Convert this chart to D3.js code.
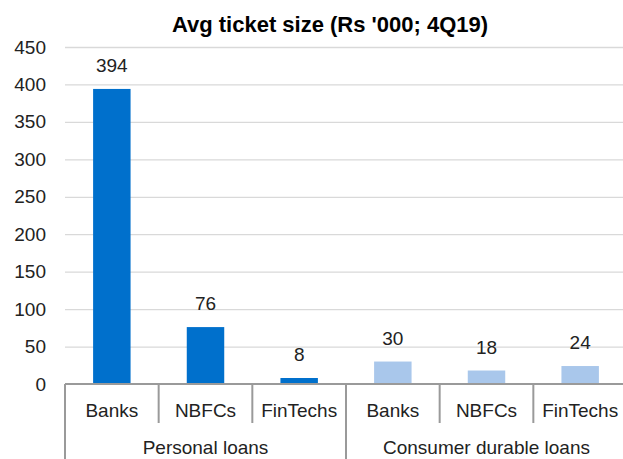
<!DOCTYPE html>
<html>
<head>
<meta charset="utf-8">
<script src="https://cdn.jsdelivr.net/npm/d3@7"></script>
<style>
  body { margin: 0; background: #fff; }
  svg { display: block; font-family: "Liberation Sans", Arial, sans-serif; }
</style>
</head>
<body>
<div id="wrapper"></div>
<script>
// data
const groups = ["Personal loans", "Consumer durable loans"];
const lenders = ["Banks", "NBFCs", "FinTechs"];
const personalValues = [394, 76, 8];
const durableValues = [30, 18, 24];
const yTicks = [0, 50, 100, 150, 200, 250, 300, 350, 400, 450];

const colors = { "Personal loans": "#0070cc", "Consumer durable loans": "#a9c7eb" };

const dataset = [];
groups.forEach((g, gi) => {
  const vals = gi === 0 ? personalValues : durableValues;
  lenders.forEach((l, i) => dataset.push({ group: g, lender: l, value: vals[i], key: g + "|" + l }));
});

const dimensions = {
  width: 623,
  height: 459,
  margin: { top: 47, right: -4, bottom: 75, left: 65 },
};
dimensions.boundedWidth = dimensions.width - dimensions.margin.left - dimensions.margin.right;
dimensions.boundedHeight = dimensions.height - dimensions.margin.top - dimensions.margin.bottom;

const svg = d3.select("#wrapper").append("svg")
  .attr("width", dimensions.width)
  .attr("height", dimensions.height);

const bounds = svg.append("g")
  .attr("transform", `translate(${dimensions.margin.left},${dimensions.margin.top})`);

const textColor = "#222";

// scales
const xScale = d3.scaleBand()
  .domain(dataset.map(d => d.key))
  .range([0, dimensions.boundedWidth])
  .paddingInner(0.6)
  .paddingOuter(0.3);

const yScale = d3.scaleLinear()
  .domain([0, 450])
  .range([dimensions.boundedHeight, 0]);

// gridlines + y labels
const yAxis = bounds.append("g")
  .call(d3.axisLeft(yScale).tickValues(yTicks).tickSize(-dimensions.boundedWidth).tickPadding(19));
yAxis.select(".domain").remove();
yAxis.selectAll(".tick line")
  .attr("stroke", "#d9d9d9")
  .attr("stroke-width", 1.3);
yAxis.selectAll(".tick text")
  .attr("fill", textColor)
  .style("font-size", "19px");
yAxis.selectAll(".tick").filter(d => d === 0).select("line").remove();

// bars
bounds.selectAll("rect.bar")
  .data(dataset)
  .join("rect")
  .attr("class", "bar")
  .attr("x", d => xScale(d.key))
  .attr("y", d => yScale(d.value))
  .attr("width", xScale.bandwidth())
  .attr("height", d => dimensions.boundedHeight - yScale(d.value))
  .attr("fill", d => colors[d.group]);

// value labels
bounds.selectAll("text.value")
  .data(dataset)
  .join("text")
  .attr("class", "value")
  .attr("x", d => xScale(d.key) + xScale.bandwidth() / 2)
  .attr("y", d => yScale(d.value) - 17)
  .attr("text-anchor", "middle")
  .attr("fill", textColor)
  .style("font-size", "19px")
  .text(d => d.value);

// multi-level x axis
const step = xScale.step();
const base = dimensions.boundedHeight;
const axisColor = "#9a9a9a";
const axisG = bounds.append("g");

axisG.append("line")
  .attr("x1", 0).attr("x2", dimensions.boundedWidth)
  .attr("y1", base).attr("y2", base)
  .attr("stroke", axisColor).attr("stroke-width", 2);

dataset.forEach((d, i) => {
  const x0 = xScale(d.key) - step * 0.3;
  const isGroupEdge = i % lenders.length === 0;
  axisG.append("line")
    .attr("x1", x0).attr("x2", x0)
    .attr("y1", base).attr("y2", isGroupEdge ? dimensions.height : base + 39)
    .attr("stroke", axisColor).attr("stroke-width", 2);
  axisG.append("text")
    .attr("x", x0 + step / 2)
    .attr("y", base + 33)
    .attr("text-anchor", "middle")
    .attr("fill", textColor)
    .style("font-size", "19px")
    .text(d.lender);
});

groups.forEach((g, gi) => {
  const x0 = gi * step * lenders.length;
  axisG.append("text")
    .attr("x", x0 + step * lenders.length / 2)
    .attr("y", base + 70)
    .attr("text-anchor", "middle")
    .attr("fill", textColor)
    .style("font-size", "19px")
    .text(g);
});

// title
svg.append("text")
  .attr("x", 330)
  .attr("y", 32)
  .attr("text-anchor", "middle")
  .attr("fill", "#000")
  .style("font-size", "22px")
  .style("font-weight", "bold")
  .text("Avg ticket size (Rs '000; 4Q19)");
</script>
</body>
</html>
